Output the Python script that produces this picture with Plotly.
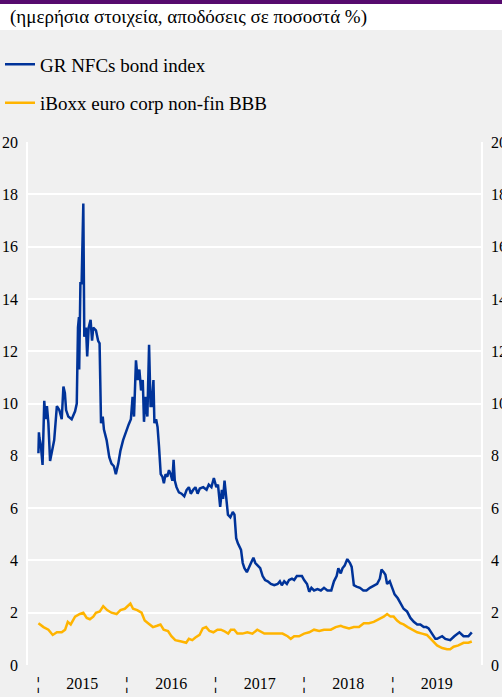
import plotly.graph_objects as go

# GR NFCs bond index (daily yields, %)
gr_dates = [
    "2015-01-02", "2015-01-04", "2015-01-06", "2015-01-12", "2015-01-19", "2015-01-26", "2015-01-31",
    "2015-02-06", "2015-02-12", "2015-02-19", "2015-02-26", "2015-03-08", "2015-03-19", "2015-03-29",
    "2015-04-08", "2015-04-15", "2015-04-21", "2015-04-26", "2015-05-05", "2015-05-19", "2015-06-02",
    "2015-06-09", "2015-06-14", "2015-06-18", "2015-06-19", "2015-06-24", "2015-06-29", "2015-07-06",
    "2015-07-10", "2015-07-17", "2015-07-22", "2015-07-28", "2015-08-05", "2015-08-11", "2015-08-16",
    "2015-08-27", "2015-09-05", "2015-09-11", "2015-09-17", "2015-09-24", "2015-09-29", "2015-10-10",
    "2015-10-21", "2015-10-30", "2015-11-09", "2015-11-17", "2015-11-27", "2015-12-06", "2015-12-17",
    "2015-12-31", "2016-01-09", "2016-01-18", "2016-01-25", "2016-01-31", "2016-02-08", "2016-02-15",
    "2016-02-22", "2016-02-29", "2016-03-07", "2016-03-12", "2016-03-19", "2016-03-26", "2016-04-02",
    "2016-04-08", "2016-04-13", "2016-04-20", "2016-04-24", "2016-05-01", "2016-05-07", "2016-05-13",
    "2016-05-20", "2016-05-27", "2016-06-02", "2016-06-09", "2016-06-16", "2016-06-23", "2016-06-30",
    "2016-07-07", "2016-07-12", "2016-07-17", "2016-07-24", "2016-08-03", "2016-08-14", "2016-08-25",
    "2016-09-04", "2016-09-13", "2016-09-21", "2016-10-01", "2016-10-10", "2016-10-19", "2016-10-28",
    "2016-11-11", "2016-11-25", "2016-12-04", "2016-12-15", "2016-12-25", "2017-01-04", "2017-01-11",
    "2017-01-20", "2017-01-27", "2017-02-01", "2017-02-07", "2017-02-14", "2017-02-21", "2017-03-03",
    "2017-03-13", "2017-03-20", "2017-03-27", "2017-04-03", "2017-04-09", "2017-04-16", "2017-04-23",
    "2017-04-30", "2017-05-10", "2017-05-18", "2017-05-27", "2017-06-06", "2017-06-14", "2017-06-24",
    "2017-07-04", "2017-07-14", "2017-07-24", "2017-08-04", "2017-08-17", "2017-08-31", "2017-09-14",
    "2017-09-23", "2017-10-01", "2017-10-11", "2017-10-22", "2017-10-31", "2017-11-12", "2017-11-21",
    "2017-12-02", "2017-12-13", "2017-12-23", "2018-01-01", "2018-01-13", "2018-01-22", "2018-01-31",
    "2018-02-11", "2018-02-25", "2018-03-11", "2018-03-24", "2018-04-07", "2018-04-23", "2018-05-04",
    "2018-05-15", "2018-05-22", "2018-06-01", "2018-06-08", "2018-06-17", "2018-06-28", "2018-07-09",
    "2018-07-16", "2018-07-25", "2018-08-05", "2018-08-19", "2018-09-02", "2018-09-15", "2018-09-29",
    "2018-10-09", "2018-10-18", "2018-10-29", "2018-11-09", "2018-11-16", "2018-11-25", "2018-12-02",
    "2018-12-09", "2018-12-20", "2018-12-30", "2019-01-09", "2019-01-22", "2019-02-02", "2019-02-15",
    "2019-03-01", "2019-03-15", "2019-03-29", "2019-04-12", "2019-04-25", "2019-05-09", "2019-05-20",
    "2019-05-29", "2019-06-12", "2019-06-26", "2019-07-03", "2019-07-24", "2019-08-06", "2019-08-26",
    "2019-09-12", "2019-10-03", "2019-10-20", "2019-11-09", "2019-11-23",
]
gr_values = [
    8.1, 8.9, 8.7, 8.4, 7.65, 10.1, 9.4,
    9.9, 9.25, 7.8, 8.2, 8.6, 9.9, 9.75,
    9.4, 10.65, 10.4, 9.75, 9.5, 9.4, 9.7,
    10.0, 12.9, 13.3, 11.3, 14.6, 14.6, 17.65,
    12.55, 12.9, 11.8, 12.9, 13.2, 12.4, 12.9,
    12.8, 12.4, 12.3, 9.25, 9.5, 9.0, 8.6,
    7.95, 7.7, 7.6, 7.3, 7.7, 8.2, 8.6,
    9.0, 9.2, 9.4, 10.25, 9.5, 11.65, 10.9,
    11.3, 10.5, 10.9, 9.3, 10.25, 9.5, 12.25,
    9.9, 9.9, 10.9, 9.25, 9.4, 9.1, 8.35,
    7.3, 7.2, 6.95, 7.3, 7.2, 7.45, 7.3,
    7.05, 7.85, 7.05, 6.8, 6.6, 6.55, 6.45,
    6.7, 6.8, 6.55, 6.7, 6.8, 6.55, 6.75,
    6.8, 6.7, 6.9, 6.8, 7.15, 6.8, 6.9,
    6.05, 6.7, 6.35, 7.05, 6.3, 5.75, 5.65,
    5.85, 5.75, 4.85, 4.65, 4.5, 4.4, 3.9,
    3.7, 3.55, 3.75, 3.9, 4.1, 3.9, 3.8,
    3.7, 3.4, 3.25, 3.2, 3.1, 3.05, 3.1,
    3.2, 3.05, 3.2, 3.1, 3.25, 3.3, 3.25,
    3.4, 3.4, 3.4, 3.25, 3.1, 2.8, 2.95,
    2.85, 2.9, 2.85, 2.95, 2.85, 2.85, 3.2,
    3.4, 3.7, 3.5, 3.7, 3.8, 4.05, 3.9,
    3.75, 3.05, 3.0, 2.95, 2.85, 2.85, 2.95,
    3.0, 3.05, 3.1, 3.3, 3.65, 3.55, 3.45,
    3.1, 3.2, 2.95, 2.7, 2.55, 2.35, 2.15,
    2.05, 1.8, 1.65, 1.55, 1.55, 1.45, 1.45,
    1.4, 1.2, 1.0, 1.0, 1.1, 1.0, 0.95,
    1.1, 1.25, 1.1, 1.1, 1.25,
]

# iBoxx euro corp non-fin BBB
ib_dates = [
    "2015-01-02", "2015-01-23", "2015-02-12", "2015-03-02", "2015-03-19", "2015-04-08", "2015-04-22",
    "2015-05-03", "2015-05-15", "2015-06-02", "2015-06-22", "2015-07-06", "2015-07-20", "2015-08-02",
    "2015-08-16", "2015-08-27", "2015-09-12", "2015-09-26", "2015-10-12", "2015-10-30", "2015-11-20",
    "2015-12-06", "2015-12-24", "2016-01-07", "2016-01-16", "2016-01-27", "2016-02-13", "2016-03-02",
    "2016-03-15", "2016-03-29", "2016-04-18", "2016-05-05", "2016-05-19", "2016-06-01", "2016-06-19",
    "2016-07-03", "2016-07-19", "2016-08-13", "2016-09-02", "2016-09-13", "2016-09-27", "2016-10-10",
    "2016-10-27", "2016-11-09", "2016-11-23", "2016-12-07", "2016-12-23", "2017-01-09", "2017-01-23",
    "2017-02-05", "2017-02-22", "2017-03-05", "2017-03-19", "2017-04-01", "2017-04-22", "2017-05-12",
    "2017-06-02", "2017-06-22", "2017-07-21", "2017-08-17", "2017-09-14", "2017-10-04", "2017-10-25",
    "2017-11-07", "2017-11-21", "2017-12-11", "2018-01-01", "2018-01-22", "2018-02-11", "2018-03-04",
    "2018-03-24", "2018-04-21", "2018-05-11", "2018-06-01", "2018-06-14", "2018-07-05", "2018-07-25",
    "2018-08-15", "2018-09-04", "2018-09-25", "2018-10-15", "2018-11-05", "2018-11-25", "2018-12-09",
    "2018-12-23", "2019-01-05", "2019-01-19", "2019-02-02", "2019-02-15", "2019-03-04", "2019-03-22",
    "2019-04-12", "2019-05-02", "2019-05-22", "2019-06-12", "2019-07-03", "2019-07-24", "2019-08-13",
    "2019-08-26", "2019-09-09", "2019-09-29", "2019-10-20", "2019-11-09", "2019-11-23",
]
ib_values = [
    1.6, 1.45, 1.35, 1.15, 1.25, 1.25, 1.35,
    1.65, 1.55, 1.85, 1.95, 2.0, 1.8, 1.75,
    1.85, 2.0, 2.05, 2.25, 2.1, 2.0, 1.95,
    2.1, 2.15, 2.25, 2.35, 2.15, 2.1, 2.0,
    1.7, 1.6, 1.45, 1.5, 1.55, 1.35, 1.3,
    1.1, 0.95, 0.9, 0.85, 1.0, 0.95, 1.05,
    1.15, 1.4, 1.45, 1.3, 1.25, 1.35, 1.35,
    1.3, 1.2, 1.35, 1.35, 1.2, 1.2, 1.25,
    1.2, 1.35, 1.2, 1.2, 1.2, 1.2, 1.1,
    1.0, 1.1, 1.1, 1.2, 1.25, 1.35, 1.3,
    1.35, 1.35, 1.45, 1.5, 1.45, 1.4, 1.45,
    1.45, 1.6, 1.6, 1.65, 1.75, 1.85, 1.95,
    1.85, 1.85, 1.7, 1.6, 1.55, 1.45, 1.35,
    1.25, 1.2, 1.15, 0.95, 0.75, 0.65, 0.6,
    0.6, 0.7, 0.75, 0.85, 0.85, 0.9,
]

years = ["2015", "2016", "2017", "2018", "2019"]
y_ticks = list(range(0, 21, 2))

FONT = "Liberation Serif, Times New Roman, serif"
BG = "#f0f0f0"

# year labels sit mid-year, the broken-bar markers at each year start
tick_vals, tick_text = [], []
for y in years:
    tick_vals += [f"{y}-01-01", f"{y}-07-02"]
    tick_text += ["<b>¦</b>", y]

fig = go.Figure()
fig.add_trace(go.Scatter(
    x=gr_dates, y=gr_values, mode="lines", name="GR NFCs bond index",
    line=dict(color="#003399", width=2.5), legendgroup="a",
))
fig.add_trace(go.Scatter(
    x=ib_dates, y=ib_values, mode="lines", name="iBoxx euro corp non-fin BBB",
    line=dict(color="#ffb400", width=2.5), legendgroup="b", yaxis="y2",
))

fig.update_layout(
    width=502, height=697,
    margin=dict(l=28, r=21, t=142, b=32, autoexpand=False),
    paper_bgcolor=BG, plot_bgcolor=BG,
    font=dict(family=FONT, size=16, color="black"),
    showlegend=True,
    legend=dict(
        xref="container", yref="container",
        x=0.0, y=0.935, xanchor="left", yanchor="top",
        bgcolor="rgba(0,0,0,0)", font=dict(size=19, family=FONT),
        tracegroupgap=11,
    ),
    xaxis=dict(
        type="date", range=["2014-11-20", "2019-12-31"], automargin=False,
        tickvals=tick_vals, ticktext=tick_text, tickangle=0,
        showgrid=False, zeroline=False, showline=False,
        ticks="outside", ticklen=4, tickcolor=BG,
    ),
    yaxis=dict(
        range=[0, 20], tickvals=y_ticks, automargin=False,
        showgrid=True, gridcolor="white", gridwidth=1.5,
        zeroline=False, showline=True, linecolor="white", linewidth=1.5,
        ticks="outside", ticklen=5, tickcolor=BG,
    ),
    yaxis2=dict(
        range=[0, 20], tickvals=y_ticks, overlaying="y", side="right", automargin=False,
        showgrid=False, zeroline=False, showline=True, linecolor="white", linewidth=1.5,
        ticks="outside", ticklen=5, tickcolor=BG,
    ),
)

# purple rule and white strip with the subtitle at the top
fig.add_shape(type="rect", xref="paper", yref="paper",
              x0=-0.1, x1=1.1, y0=1.2639, y1=1.3,
              fillcolor="#560a6e", line_width=0, layer="below")
fig.add_shape(type="rect", xref="paper", yref="paper",
              x0=-0.1, x1=1.1, y0=1.2141, y1=1.2639,
              fillcolor="white", line_width=0, layer="below")
fig.add_annotation(
    text="(ημερήσια στοιχεία, αποδόσεις σε ποσοστά %)",
    xref="paper", yref="paper", x=-0.044, y=1.2385,
    xanchor="left", yanchor="middle", showarrow=False,
    font=dict(family=FONT, size=19, color="black"),
)

# drop the default page margin so the figure sits at the window's top-left
fig.write_html("out.html", config={"displayModeBar": False},
               post_script="document.body.style.margin='0';")
